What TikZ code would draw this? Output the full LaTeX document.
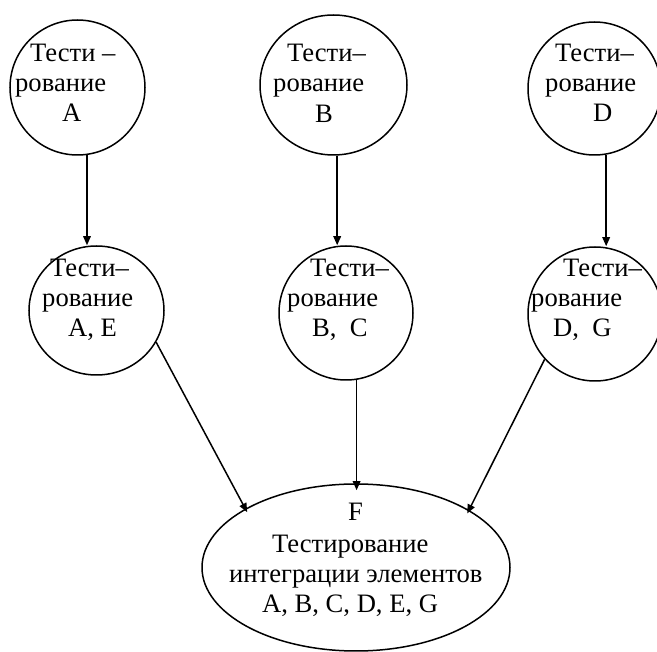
\documentclass[tikz,border=0pt]{standalone}
\usepackage{fontspec}
\setmainfont{Liberation Serif}
\usetikzlibrary{arrows.meta,shapes.geometric}
\begin{document}
\begin{tikzpicture}[x=1pt,y=-1pt,
  stage/.style={ellipse,draw,line width=1.5pt,inner sep=0pt},
  lbl/.style={anchor=base west,inner sep=0pt,font=\fontsize{26.6}{30}\selectfont},
  flow/.style={line width=1.5pt,-{Triangle[length=9pt,width=7.5pt]}},
]
\useasboundingbox (0,0) rectangle (657,652);

% first row: single-element tests
\node[stage,minimum width=135pt,minimum height=135pt] (A) at (77.5,87.5) {};
\node[stage,minimum width=147pt,minimum height=140pt] (B) at (333.5,85) {};
\node[stage,minimum width=133pt,minimum height=133pt] (D) at (594.5,88.5) {};

% second row: paired tests
\node[stage,minimum width=135pt,minimum height=129pt] (AE) at (96.5,310.5) {};
\node[stage,minimum width=134pt,minimum height=134pt] (BC) at (346,313) {};
\node[stage,minimum width=134pt,minimum height=134pt] (DG) at (595,314) {};

% integration test
\node[stage,minimum width=308pt,minimum height=167pt] (F) at (356,567.5) {};

% texts
\node[lbl] (tA1) at (30,62) {Тести –};
\node[lbl] (tA2) at (15,92) {рование};
\node[lbl] (tA3) at (62,122) {A};

\node[lbl] (tB1) at (287,62) {Тести–};
\node[lbl] (tB2) at (273,92) {рование};
\node[lbl] (tB3) at (315,123) {B};

\node[lbl] (tD1) at (555,62) {Тести–};
\node[lbl] (tD2) at (545,92) {рование};
\node[lbl] (tD3) at (593,122) {D};

\node[lbl] (tAE1) at (50,277) {Тести–};
\node[lbl] (tAE2) at (42,307) {рование};
\node[lbl] (tAE3) at (68,337) {A, E};

\node[lbl] (tBC1) at (310,277) {Тести–};
\node[lbl] (tBC2) at (287,307) {рование};
\node[lbl] (tBC3) at (312,337) {B,\ \ C};

\node[lbl] (tDG1) at (563,277) {Тести–};
\node[lbl] (tDG2) at (531,307) {рование};
\node[lbl] (tDG3) at (553,337) {D,\ \ G};

\node[lbl] (tF1) at (348,521) {F};
\node[lbl] (tF2) at (272,553) {Тестирование};
\node[lbl] (tF3) at (229,583) {интеграции элементов};
\node[lbl] (tF4) at (262,613) {A, B, C, D, E, G};

% connectors
\draw[flow] (A.-82) -- (A.-82 |- AE.north);
\draw[flow] (B.-87) -- (B.-87 |- BC.north);
\draw[flow] (D.-80) -- (D.-80 |- DG.north);
\draw[flow,shorten >=-4pt] (AE.-28) -- (F.152);
\draw[flow,shorten >=-7pt] (BC.-81) -- (BC.-81 |- F.north);
\draw[flow,shorten >=-4pt] (DG.-138) -- (F.27);
\end{tikzpicture}
\end{document}
